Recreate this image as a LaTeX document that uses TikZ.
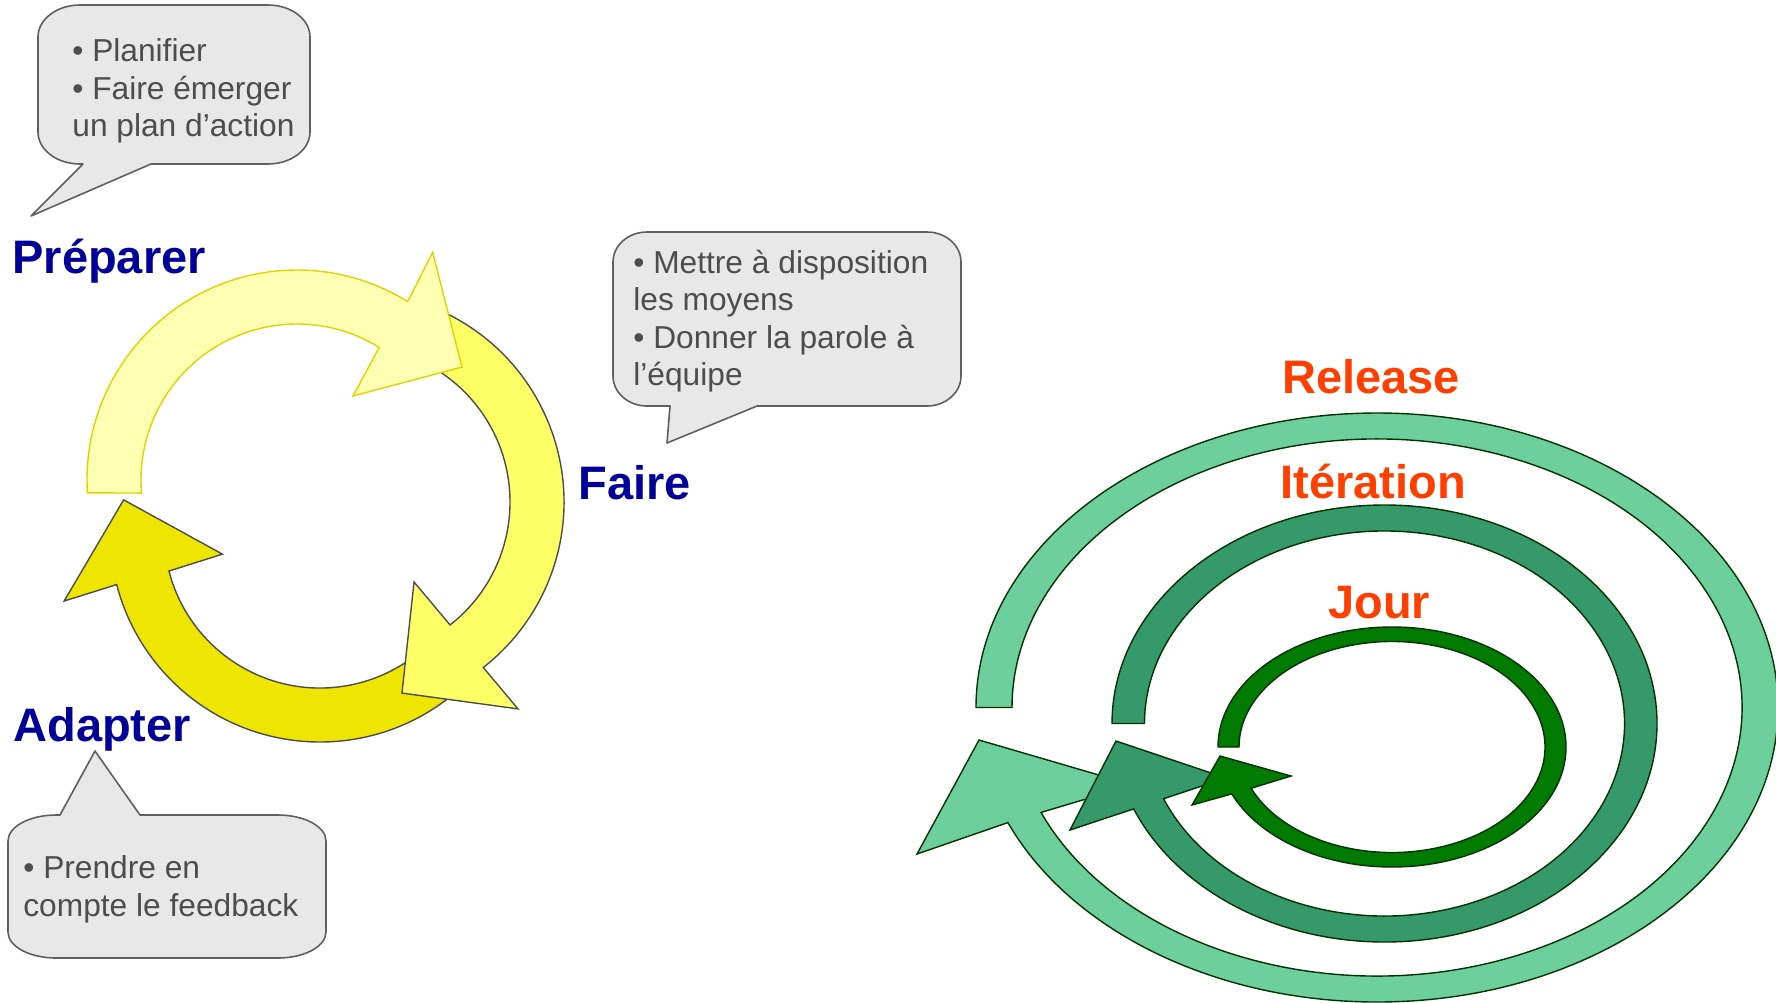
\documentclass[tikz,border=0pt]{standalone}
\usepackage{fontspec}
\setmainfont{Liberation Sans}
\definecolor{navy}{HTML}{000099}
\definecolor{orng}{HTML}{FF3F00}
\definecolor{cfill}{HTML}{E8E8E8}
\definecolor{cline}{HTML}{5F5F5F}
\definecolor{ctext}{HTML}{4D4D4D}
\definecolor{ylight}{HTML}{FFFFB3}
\definecolor{ylightline}{HTML}{DDD400}
\definecolor{ymed}{HTML}{FFFF66}
\definecolor{ydark}{HTML}{EEE600}
\definecolor{yline}{HTML}{4D4D4D}
\definecolor{grel}{HTML}{6CCF9C}
\definecolor{giter}{HTML}{36996A}
\definecolor{gjour}{HTML}{007A00}
\definecolor{gline}{HTML}{003300}
\tikzset{
  callout/.style={fill=cfill, draw=cline, line width=0.8pt, line join=round},
  ctxt/.style={anchor=base west, inner sep=0pt, text=ctext, font=\fontsize{15.85pt}{18.75pt}\selectfont},
  bluelbl/.style={anchor=base west, inner sep=0pt, text=navy, font=\fontsize{23.5pt}{28pt}\selectfont\bfseries},
  orglbl/.style={anchor=base west, inner sep=0pt, text=orng, font=\fontsize{23.5pt}{28pt}\selectfont\bfseries},
  yarrowlight/.style={fill=ylight, draw=ylightline, line width=0.7pt, line join=miter},
  yarrowmed/.style={fill=ymed, draw=yline, line width=0.7pt, line join=miter},
  yarrowdark/.style={fill=ydark, draw=yline, line width=0.7pt, line join=miter},
  ring/.style={draw=gline, line width=0.7pt, line join=miter},
}
\begin{document}
\begin{tikzpicture}[x=0.5pt,y=0.5pt]
\useasboundingbox (0,0) rectangle (1776,-1002);

% ---------- Callouts ----------
\path[callout] (80,-5) -- (268,-5) arc[start angle=90,end angle=0,x radius=42,y radius=32]
  -- (310,-132) arc[start angle=0,end angle=-90,x radius=42,y radius=32]
  -- (151,-164) -- (31,-216) -- (83,-164) -- (80,-164)
  arc[start angle=-90,end angle=-180,x radius=42,y radius=32]
  -- (38,-37) arc[start angle=180,end angle=90,x radius=42,y radius=32] -- cycle;

\path[callout] (647,-232) -- (927,-232) arc[start angle=90,end angle=0,x radius=34,y radius=30]
  -- (961,-376) arc[start angle=0,end angle=-90,x radius=34,y radius=30]
  -- (757,-406) -- (667,-443) -- (670,-406) -- (647,-406)
  arc[start angle=-90,end angle=-180,x radius=34,y radius=30]
  -- (613,-262) arc[start angle=180,end angle=90,x radius=34,y radius=30] -- cycle;

\path[callout] (56,-815) -- (60,-815) -- (95,-751) -- (140,-815) -- (278,-815)
  arc[start angle=90,end angle=0,x radius=48,y radius=26]
  -- (326,-932) arc[start angle=0,end angle=-90,x radius=48,y radius=26]
  -- (56,-958) arc[start angle=-90,end angle=-180,x radius=48,y radius=26]
  -- (8,-841) arc[start angle=180,end angle=90,x radius=48,y radius=26] -- cycle;

\node[ctxt] (c1a) at (72,-61) {• Planifier};
\node[ctxt] (c1b) at (72,-99) {• Faire émerger};
\node[ctxt] (c1c) at (72,-136) {un plan d’action};

\node[ctxt] (c2a) at (633,-273) {• Mettre à disposition};
\node[ctxt] (c2b) at (633,-310) {les moyens};
\node[ctxt] (c2c) at (633,-348) {• Donner la parole à};
\node[ctxt] (c2d) at (633,-385) {l’équipe};

\node[ctxt] (c3a) at (23,-878) {• Prendre en};
\node[ctxt] (c3b) at (23,-916) {compte le feedback};

% ---------- Yellow cycle ----------
\begin{scope}[shift={(320,-532)}]
\path[yarrowdark] (-48:210) arc[start angle=-48,end angle=-165.5,radius=210]
  -- (-164.9:265) -- (-189.3:199) -- (-167.2:100) -- (-165.5:156)
  arc[start angle=-165.5,end angle=-48,radius=156] -- cycle;
\end{scope}
\begin{scope}[shift={(354,-502)}]
\path[yarrowmed] (68:210) arc[start angle=68,end angle=-52,radius=210]
  -- (-51.6:264) -- (-75.9:197) -- (-53.1:100) -- (-52:156)
  arc[start angle=-52,end angle=68,radius=156] -- cycle;
\end{scope}
\begin{scope}[shift={(297,-480)}]
\path[yarrowlight] (183.5:210) arc[start angle=183.5,end angle=58.2,radius=210]
  -- (59.2:265) -- (34.4:200) -- (56.3:101) -- (58.2:156)
  arc[start angle=58.2,end angle=184.8,radius=156] -- cycle;
\end{scope}

\node[bluelbl] (prep) at (12,-273) {Préparer};
\node[bluelbl] (faire) at (578,-499) {Faire};
\node[bluelbl] (adapt) at (13,-741) {Adapter};

% ---------- Green rings ----------
\begin{scope}[shift={(1377,-707.5)}]
\path[ring, fill=grel] (180:401 and 294.5)
  arc[start angle=180,end angle=-157,x radius=401,y radius=294.5]
  -- (-460,-146.5) -- (-398,-32.5) -- (-244,-77.5) -- (-157:365 and 268.5)
  arc[start angle=-157,end angle=180,x radius=365,y radius=268.5] -- cycle;
\end{scope}
\begin{scope}[shift={(1384.5,-723.5)}]
\path[ring, fill=giter] (180:272.5 and 218.5)
  arc[start angle=180,end angle=-157,x radius=272.5,y radius=218.5]
  -- (-314.5,-106.5) -- (-268.5,-17.5) -- (-158.5,-54.5) -- (-157:240 and 192.5)
  arc[start angle=-157,end angle=180,x radius=240,y radius=192.5] -- cycle;
\end{scope}
\begin{scope}[shift={(1392,-747)}]
\path[ring, fill=gjour] (180:174 and 120)
  arc[start angle=180,end angle=-157,x radius=174,y radius=120]
  -- (-200,-58) -- (-172,-9) -- (-101,-29) -- (-157:153 and 105.5)
  arc[start angle=-157,end angle=180,x radius=153,y radius=105.5] -- cycle;
\end{scope}

\node[orglbl] (rel) at (1282,-393) {Release};
\node[orglbl] (iter) at (1280,-498) {Itération};
\node[orglbl] (jour) at (1328,-618) {Jour};
\end{tikzpicture}
\end{document}
